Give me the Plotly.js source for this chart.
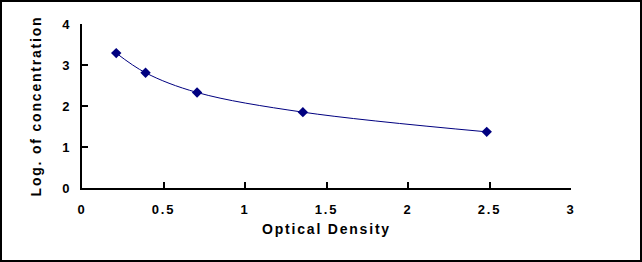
<!DOCTYPE html>
<html>
<head>
<meta charset="utf-8">
<script src="https://cdn.plot.ly/plotly-3.0.1.min.js"></script>
<style>
html, body { margin: 0; padding: 0; background: #fff; }
#wrap { width: 642px; height: 262px; box-sizing: border-box; border: 2px solid #000; overflow: hidden; }
#chart { width: 638px; height: 258px; }
.main-svg text { letter-spacing: 1.8px; }
</style>
</head>
<body>
<div id="wrap"><div id="chart"></div></div>
<script>
const opticalDensity = [0.21, 0.39, 0.706, 1.355, 2.483];
const logConcentration = [3.29, 2.81, 2.33, 1.85, 1.37];
const xTickValues = [0, 0.5, 1, 1.5, 2, 2.5, 3];
const xTickLabels = ["0", "0.5", "1", "1.5", "2", "2.5", "3"];
const yTickValues = [0, 1, 2, 3, 4];
const yTickLabels = ["0", "1", "2", "3", "4"];

const font = { family: "Liberation Sans, Arial, sans-serif", size: 13, color: "#000", weight: "bold" };

const trace = {
  x: opticalDensity,
  y: logConcentration,
  type: "scatter",
  mode: "lines+markers",
  line: { color: "#000080", width: 1, shape: "spline", smoothing: 1 },
  marker: { symbol: "diamond", size: 8, color: "#000080" },
  hoverinfo: "none"
};

const layout = {
  width: 638, height: 258,
  margin: { l: 80, r: 69, t: 22, b: 72 },
  paper_bgcolor: "#fff", plot_bgcolor: "#fff",
  showlegend: false,
  font: font,
  xaxis: {
    range: [0, 3], tickvals: xTickValues, ticktext: xTickLabels,
    showgrid: false, zeroline: false, showline: true, linecolor: "#000", linewidth: 2,
    ticks: "inside", ticklen: 6, tickwidth: 2, tickcolor: "#000",
    ticklabelstandoff: 8,
    tickfont: font,
    title: { text: "Optical Density", font: { family: font.family, size: 14, color: "#000", weight: "bold" }, standoff: 9 }
  },
  yaxis: {
    range: [0, 4], tickvals: yTickValues, ticktext: yTickLabels,
    showgrid: false, zeroline: false, showline: true, linecolor: "#000", linewidth: 2,
    ticks: "inside", ticklen: 6, tickwidth: 2, tickcolor: "#000",
    ticklabelstandoff: 6,
    tickfont: font,
    title: { text: "Log. of concentration", font: { family: font.family, size: 14, color: "#000", weight: "bold" }, standoff: 19 }
  }
};

Plotly.newPlot("chart", [trace], layout, { staticPlot: true, displayModeBar: false });
</script>
</body>
</html>
